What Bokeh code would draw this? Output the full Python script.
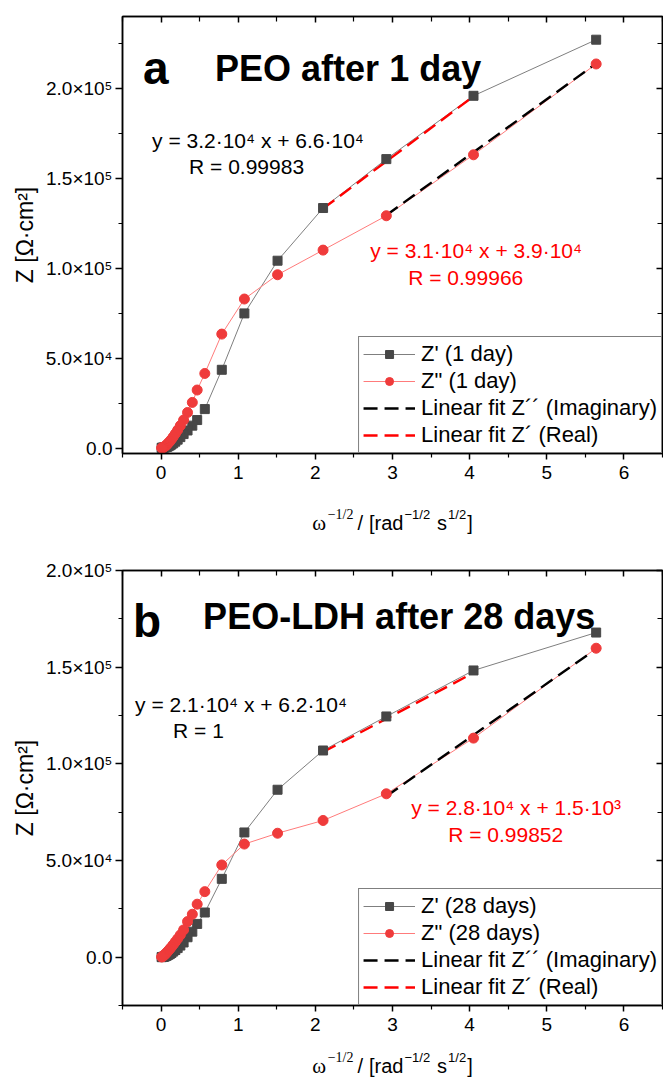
from bokeh.plotting import figure
from bokeh.models import Range1d, LinearAxis, FixedTicker, Label, Legend, LegendItem
from bokeh.layouts import column
from bokeh.embed import file_html
from bokeh.resources import INLINE

# ---------------- data ----------------
omega_inv_sqrt = [5.64, 4.05, 2.92, 2.10, 1.51, 1.08, 0.787, 0.567, 0.468, 0.405,
                  0.343, 0.292, 0.250, 0.215, 0.185, 0.158, 0.135, 0.115, 0.098,
                  0.083, 0.070, 0.058, 0.047, 0.037, 0.028, 0.020, 0.013, 0.007]

z_real_1d = [2.271e5, 1.959e5, 1.607e5, 1.335e5, 1.042e5, 0.749e5, 0.4355e5, 0.217e5,
             0.156e5, 0.125e5, 0.098e5, 0.078e5, 0.061e5, 0.047e5, 0.036e5, 0.027e5,
             0.020e5, 0.015e5, 0.011e5, 0.008e5, 0.006e5, 0.0045e5, 0.0035e5, 0.0028e5,
             0.0022e5, 0.0018e5, 0.0015e5, 0.0013e5]
z_imag_1d = [2.136e5, 1.631e5, 1.292e5, 1.101e5, 0.964e5, 0.829e5, 0.634e5, 0.415e5,
             0.323e5, 0.254e5, 0.198e5, 0.156e5, 0.125e5, 0.100e5, 0.080e5, 0.063e5,
             0.049e5, 0.038e5, 0.030e5, 0.023e5, 0.017e5, 0.012e5, 0.009e5, 0.006e5,
             0.004e5, 0.0025e5, 0.0015e5, 0.0008e5]

z_real_28d = [1.679e5, 1.483e5, 1.245e5, 1.069e5, 0.866e5, 0.645e5, 0.405e5, 0.231e5,
              0.172e5, 0.132e5, 0.103e5, 0.076e5, 0.060e5, 0.047e5, 0.037e5, 0.029e5,
              0.022e5, 0.017e5, 0.013e5, 0.010e5, 0.007e5, 0.005e5, 0.0035e5, 0.0025e5,
              0.0015e5, 0.001e5, 0.0005e5, 0.0002e5]
z_imag_28d = [1.598e5, 1.133e5, 0.845e5, 0.707e5, 0.641e5, 0.585e5, 0.477e5, 0.339e5,
              0.274e5, 0.222e5, 0.184e5, 0.141e5, 0.115e5, 0.095e5, 0.079e5, 0.065e5,
              0.053e5, 0.043e5, 0.035e5, 0.028e5, 0.022e5, 0.017e5, 0.013e5, 0.009e5,
              0.006e5, 0.004e5, 0.002e5, 0.001e5]

# linear fits: slope, intercept, x start, x end
fit_real_1d = [3.2e4, 6.6e4, 2.10, 4.05]
fit_imag_1d = [3.1e4, 3.9e4, 2.92, 5.64]
fit_real_28d = [2.1e4, 6.2e4, 2.10, 4.05]
fit_imag_28d = [2.8e4, 1.5e3, 2.92, 5.64]

x_ticks = [0, 1, 2, 3, 4, 5, 6]
x_tick_labels = ["0", "1", "2", "3", "4", "5", "6"]
x_minor = [-0.5, 0.5, 1.5, 2.5, 3.5, 4.5, 5.5, 6.5]
y_ticks = [0, 5e4, 1e5, 1.5e5, 2e5]
y_tick_labels = ["0.0", "5.0×10⁴", "1.0×10⁵", "1.5×10⁵", "2.0×10⁵"]
y_minor = [-2.5e4, 2.5e4, 7.5e4, 1.25e5, 1.75e5, 2.25e5]

SANS = "Liberation Sans"
SERIF = "Liberation Serif"

W_SANS = {' ': 278, '/': 278, '[': 278, ']': 278, 'r': 333, 'a': 556, 'd': 556,
          's': 500, '−': 584, '1': 556, '2': 556}
W_SERIF = {'ω': 686, '−': 564, '1': 500, '/': 278, '2': 500, ' ': 250}

X_LO, X_HI = -0.5, 6.5
FIG_W = 663
BORDER_L = 122
BORDER_R = 1
FRAME_W = FIG_W - BORDER_L - BORDER_R


def text_width(t, font, size):
    table = W_SERIF if font == SERIF else W_SANS
    return sum(table.get(c, 556) for c in t) * size / 1000.0


def make_panel(height, y_lo, y_hi, btop, bbot, zr, zi, fr, fi, lab_r, lab_i,
               letter, letter_pos, title, title_pos, ann_k, ann_r):
    p = figure(width=FIG_W, height=height, x_range=Range1d(X_LO, X_HI),
               y_range=Range1d(y_lo, y_hi), output_backend="svg",
               toolbar_location=None, min_border_left=BORDER_L,
               min_border_right=BORDER_R, min_border_top=btop,
               min_border_bottom=bbot)
    p.grid.visible = False
    p.background_fill_color = "white"
    p.border_fill_color = "white"
    p.outline_line_color = "black"
    p.outline_line_width = 1.5

    xt = FixedTicker(ticks=x_ticks, minor_ticks=x_minor)
    yt = FixedTicker(ticks=y_ticks, minor_ticks=y_minor)

    xa = p.xaxis[0]
    xa.ticker = xt
    xa.major_label_overrides = {t: s for t, s in zip(x_ticks, x_tick_labels)}
    ya = p.yaxis[0]
    ya.ticker = yt
    ya.major_label_overrides = {t: s for t, s in zip(y_ticks, y_tick_labels)}
    for ax in (xa, ya):
        ax.axis_line_width = 1.5
        ax.major_tick_line_width = 1.5
        ax.minor_tick_line_width = 1.2
        ax.major_tick_in = 0
        ax.minor_tick_in = 0
        ax.major_label_text_font = SANS
        ax.major_label_text_font_size = "19px"
        ax.major_label_text_color = "black"
    xa.major_tick_out = 6
    xa.minor_tick_out = 4
    xa.major_label_standoff = 6
    ya.major_tick_out = 7
    ya.minor_tick_out = 4
    ya.major_label_standoff = 3
    ya.axis_label = "Z [Ω·cm²]"
    ya.axis_label_text_font = SANS
    ya.axis_label_text_font_size = "23px"
    ya.axis_label_text_font_style = "normal"
    ya.axis_label_text_color = "black"
    ya.axis_label_standoff = 5

    for loc, tk, ticks in (("above", xt, x_ticks), ("right", yt, y_ticks)):
        ax = LinearAxis(ticker=tk, major_label_overrides={t: "" for t in ticks},
                        major_label_text_font_size="1px",
                        major_label_standoff=0, major_tick_in=6, major_tick_out=0,
                        minor_tick_in=5, minor_tick_out=0, axis_line_width=1.5,
                        major_tick_line_width=1.5, minor_tick_line_width=1.2)
        p.add_layout(ax, loc)

    x = omega_inv_sqrt
    lr = p.line(x, zr, line_color="#7f7f7f", line_width=1)
    li = p.line(x, zi, line_color="#ff7b7b", line_width=1)

    def fit_line(f, color):
        xs = [f[2], f[3]]
        ys = [f[0] * v + f[1] for v in xs]
        return p.line(xs, ys, line_color=color, line_width=2.4, line_dash="14 7")

    fit_i = fit_line(fi, "black")
    fit_r = fit_line(fr, "#ff0000")

    sr = p.scatter(x, zr, marker="square", size=9, fill_color="#474747",
                   line_color="#474747")
    si = p.scatter(x, zi, marker="circle", size=10, fill_color="#ef3b3b",
                   line_color="#ef3b3b")

    legend = Legend(items=[
        LegendItem(label=lab_r, renderers=[lr, sr]),
        LegendItem(label=lab_i, renderers=[li, si]),
        LegendItem(label="Linear fit Z´´ (Imaginary)", renderers=[fit_i]),
        LegendItem(label="Linear fit Z´ (Real)", renderers=[fit_r]),
    ], location="bottom_right")
    legend.border_line_color = "black"
    legend.border_line_width = 1
    legend.background_fill_alpha = 1
    legend.padding = 4
    legend.spacing = 1
    legend.margin = 0
    legend.glyph_width = 52
    legend.glyph_height = 20
    legend.label_height = 20
    legend.label_standoff = 6
    legend.label_text_font = SANS
    legend.label_text_font_size = "22px"
    legend.label_text_color = "black"
    p.add_layout(legend)

    p.add_layout(Label(x=letter_pos[0], y=letter_pos[1], text=letter,
                       text_font=SANS, text_font_style="bold", text_color="black",
                       text_font_size="46px", text_baseline="alphabetic"))
    p.add_layout(Label(x=title_pos[0], y=title_pos[1], text=title,
                       text_font=SANS, text_font_style="bold", text_color="black",
                       text_font_size="36px", text_baseline="alphabetic"))
    for (tx, ty, t), col in [(a, "black") for a in ann_k] + [(a, "#ff0000") for a in ann_r]:
        p.add_layout(Label(x=tx, y=ty, text=t, text_font=SANS, text_font_size="21px",
                           text_color=col, text_baseline="middle"))
    return p


def make_xtitle(height, baseline_from_top):
    """Strip below a panel holding the x-axis title with real superscripts.
    Its frame lines up with the panel frame; x units are canvas pixels."""
    t = figure(width=FIG_W, height=height, x_range=Range1d(BORDER_L, BORDER_L + FRAME_W),
               y_range=Range1d(0, height), output_backend="svg",
               toolbar_location=None, min_border_left=BORDER_L,
               min_border_right=BORDER_R, min_border_top=0, min_border_bottom=0,
               x_axis_type=None, y_axis_type=None)
    t.grid.visible = False
    t.outline_line_color = None
    t.background_fill_color = "white"
    t.border_fill_color = "white"
    pieces = [("ω", SERIF, 21, 0, 0), ("−1/2", SERIF, 14, 8, 1),
              ("/", SANS, 20, 0, 4), ("[rad", SANS, 20, 0, 6),
              ("−1/2", SANS, 13, 8, 1), ("s", SANS, 20, 0, 7),
              ("1/2", SANS, 13, 8, 1), ("]", SANS, 20, 0, 1)]
    total = sum(text_width(s_, f, z) + g for s_, f, z, _, g in pieces)
    cx = BORDER_L + FRAME_W / 2.0 - total / 2.0
    base = height - baseline_from_top
    for s_, f, z, r, g in pieces:
        cx += g
        t.add_layout(Label(x=cx, y=base + r, text=s_, text_font=f,
                           text_font_size=f"{z}px", text_color="black",
                           text_baseline="alphabetic"))
        cx += text_width(s_, f, z)
    return t


pa = make_panel(500, -3000, 240000, 16, 47, z_real_1d, z_imag_1d, fit_real_1d,
                fit_imag_1d, "Z' (1 day)", 'Z" (1 day)',
                "a", (-0.233, 2.115e5), "PEO after 1 day", (0.70, 2.109e5),
                [(-0.117, 1.709e5, "y = 3.2·10⁴ x + 6.6·10⁴"), (0.363, 1.564e5, "R = 0.99983")],
                [(2.711, 1.097e5, "y = 3.1·10⁴ x + 3.9·10⁴"), (3.204, 0.947e5, "R = 0.99966")])
ta = make_xtitle(38, 22)

pb = make_panel(500, -25000, 200000, 32, 33, z_real_28d, z_imag_28d, fit_real_28d,
                fit_imag_28d, "Z' (28 days)", 'Z" (28 days)',
                "b", (-0.363, 1.74e5), "PEO-LDH after 28 days", (0.545, 1.761e5),
                [(-0.337, 1.305e5, "y = 2.1·10⁴ x + 6.2·10⁴"), (0.156, 1.171e5, "R = 1")],
                [(3.243, 0.772e5, "y = 2.8·10⁴ x + 1.5·10³"), (3.722, 0.633e5, "R = 0.99852")])
tb = make_xtitle(40, 27)

layout = column(pa, ta, pb, tb, spacing=0)
open("out.html", "w").write(file_html(layout, INLINE))
